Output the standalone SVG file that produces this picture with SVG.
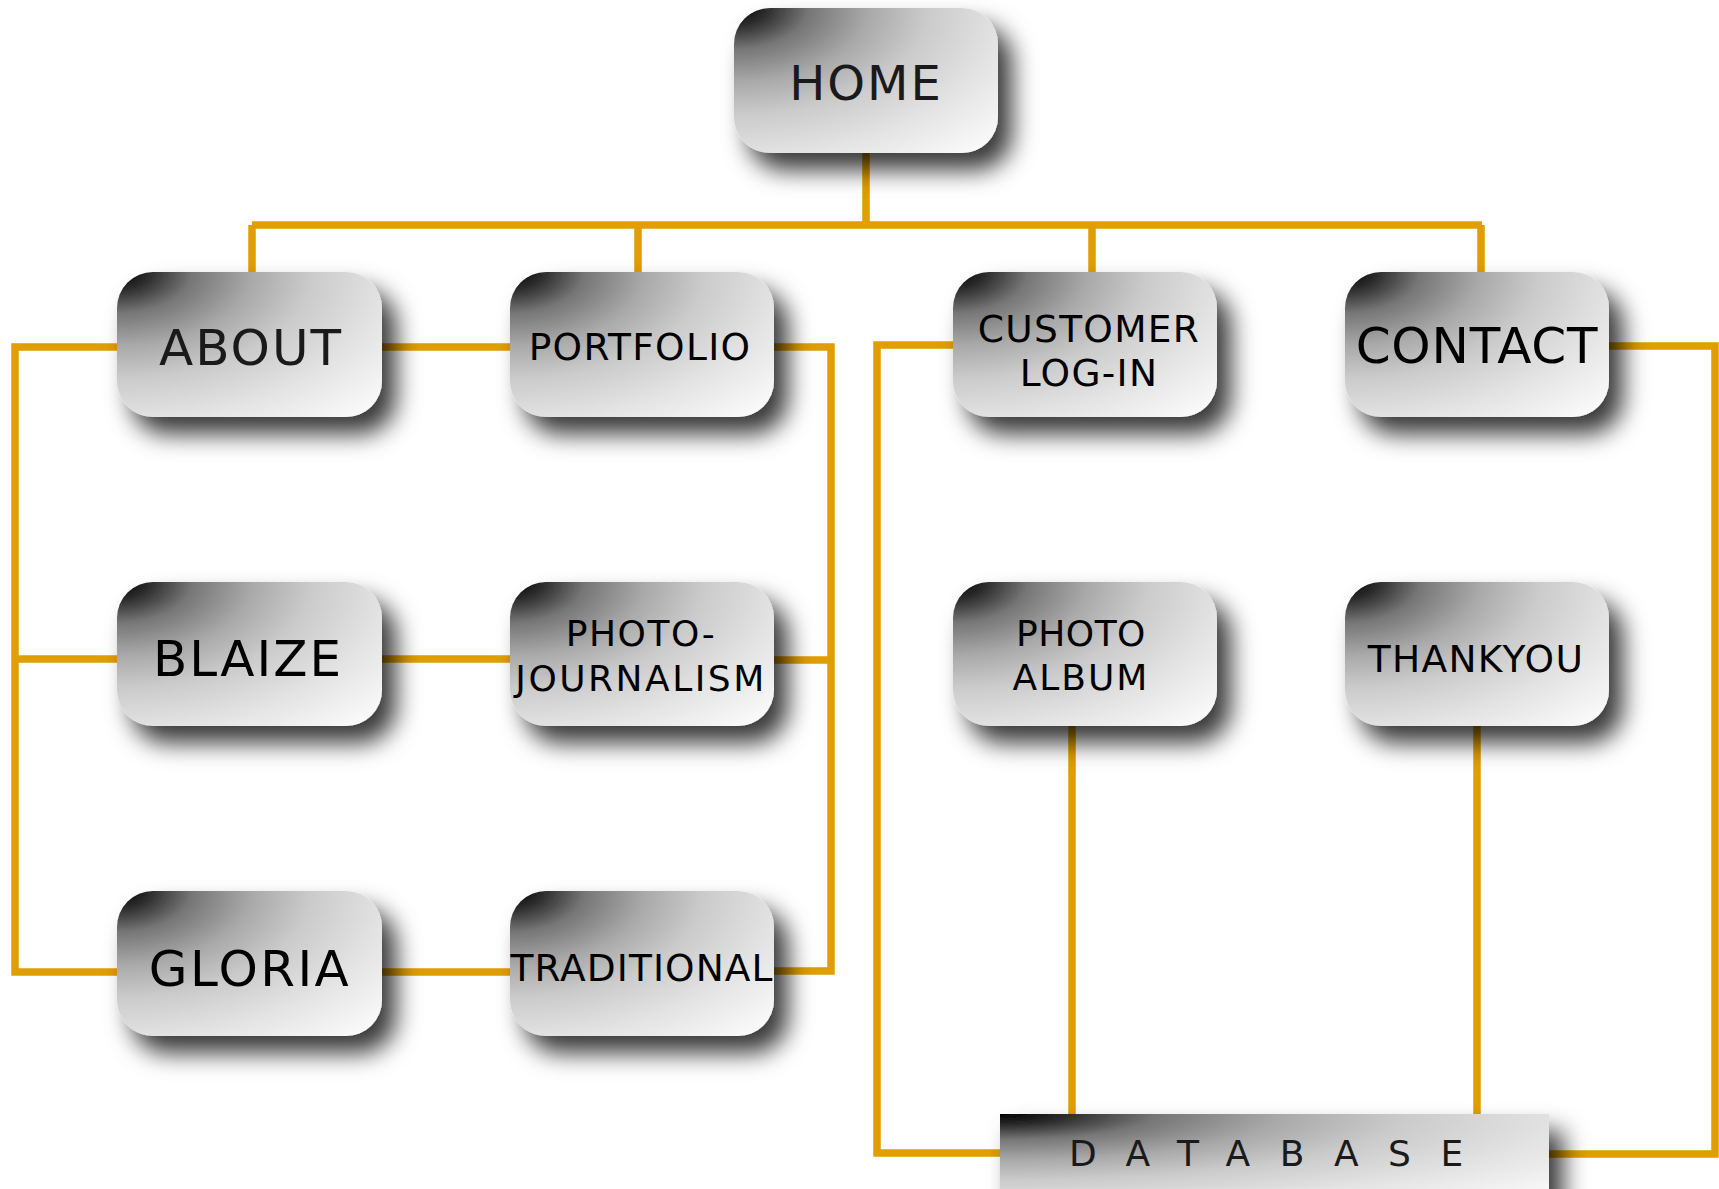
<svg xmlns="http://www.w3.org/2000/svg" width="1719" height="1189" viewBox="0 0 1719 1189">
<style>
.bg{fill:#fff}
.ln{fill:none;stroke:#E09E00;stroke-width:7.5;stroke-linejoin:miter;stroke-linecap:butt}
.box{fill:url(#g);filter:url(#sh)}
.t{font-family:"DejaVu Sans","Verdana","Liberation Sans",sans-serif;fill:#000;text-anchor:middle}
.big{font-size:50px;letter-spacing:2px;fill:#1a1a1a}
.sm{font-size:37.5px;letter-spacing:1.3px}
</style>
<defs>
<radialGradient id="g" cx="0" cy="0" fx="0" fy="0" r="1.414">
<stop offset="0" stop-color="#000"/>
<stop offset="0.09" stop-color="#2e2e2e"/>
<stop offset="0.2" stop-color="#767676"/>
<stop offset="0.36" stop-color="#a9a9a9"/>
<stop offset="0.52" stop-color="#cbcbcb"/>
<stop offset="0.72" stop-color="#e3e3e3"/>
<stop offset="1" stop-color="#fff"/>
</radialGradient>
<filter id="sh" x="-15%" y="-20%" width="140%" height="170%">
<feDropShadow dx="14" dy="17" stdDeviation="12" flood-color="#000" flood-opacity="0.78"/>
</filter>
</defs>
<rect class="bg" x="0" y="0" width="1719" height="1189"/>
<g id="connectors">
<path class="ln" d="M866,153 V225"/>
<path class="ln" d="M252,225 H1482"/>
<path class="ln" d="M252,225 V272 M638,225 V272 M1092,225 V272 M1481,225 V272"/>
<path class="ln" d="M382,347 H510"/>
<path class="ln" d="M117,347 H15 V972 H117 M15,659 H117"/>
<path class="ln" d="M382,659 H510"/>
<path class="ln" d="M382,972 H510"/>
<path class="ln" d="M774,347 H831 V971 H774 M774,660 H831"/>
<path class="ln" d="M953,345 H877 V1153 H1000"/>
<path class="ln" d="M1072,726 V1114"/>
<path class="ln" d="M1477,726 V1114"/>
<path class="ln" d="M1609,346 H1715 V1154 H1549"/>
</g>
<g id="home">
<rect class="box" x="734" y="8" width="264" height="145" rx="36"/>
<text class="t big" x="866" y="100" style="font-size:48px">HOME</text>
</g>
<g id="about">
<rect class="box" x="117" y="272" width="265" height="145" rx="36"/>
<text class="t big" x="251" y="365">ABOUT</text>
</g>
<g id="portfolio">
<rect class="box" x="510" y="272" width="264" height="145" rx="36"/>
<text class="t sm" x="640" y="360">PORTFOLIO</text>
</g>
<g id="customer">
<rect class="box" x="953" y="272" width="264" height="145" rx="36"/>
<text class="t sm" x="1089" y="342">CUSTOMER</text>
<text class="t sm" x="1089" y="386">LOG-IN</text>
</g>
<g id="contact">
<rect class="box" x="1345" y="272" width="264" height="145" rx="36"/>
<text class="t big" x="1477" y="363" style="letter-spacing:0.8px;fill:#000">CONTACT</text>
</g>
<g id="blaize">
<rect class="box" x="117" y="582" width="265" height="144" rx="36"/>
<text class="t big" x="248" y="676" style="fill:#000">BLAIZE</text>
</g>
<g id="photojournalism">
<rect class="box" x="510" y="582" width="264" height="144" rx="36"/>
<text class="t" x="641" y="646" style="font-size:36px;letter-spacing:1.5px">PHOTO-</text>
<text class="t" x="641" y="691" style="font-size:36px;letter-spacing:2.5px">JOURNALISM</text>
</g>
<g id="photoalbum">
<rect class="box" x="953" y="582" width="264" height="144" rx="36"/>
<text class="t" x="1081" y="646" style="font-size:36px;letter-spacing:0.5px">PHOTO</text>
<text class="t" x="1081" y="690" style="font-size:36px;letter-spacing:2px">ALBUM</text>
</g>
<g id="thankyou">
<rect class="box" x="1345" y="582" width="264" height="144" rx="36"/>
<text class="t sm" x="1476" y="672">THANKYOU</text>
</g>
<g id="gloria">
<rect class="box" x="117" y="891" width="265" height="145" rx="36"/>
<text class="t big" x="250" y="986" style="letter-spacing:2.4px;fill:#000">GLORIA</text>
</g>
<g id="traditional">
<rect class="box" x="510" y="891" width="264" height="145" rx="36"/>
<text class="t sm" x="642" y="981" style="letter-spacing:1.1px">TRADITIONAL</text>
</g>
<g id="database">
<rect class="box" x="1000" y="1114" width="549" height="90"/>
<text class="t" x="1069" y="1166" style="font-size:36px;letter-spacing:29.5px;text-anchor:start;fill:#1a1a1a">DATABASE</text>
</g>
</svg>
